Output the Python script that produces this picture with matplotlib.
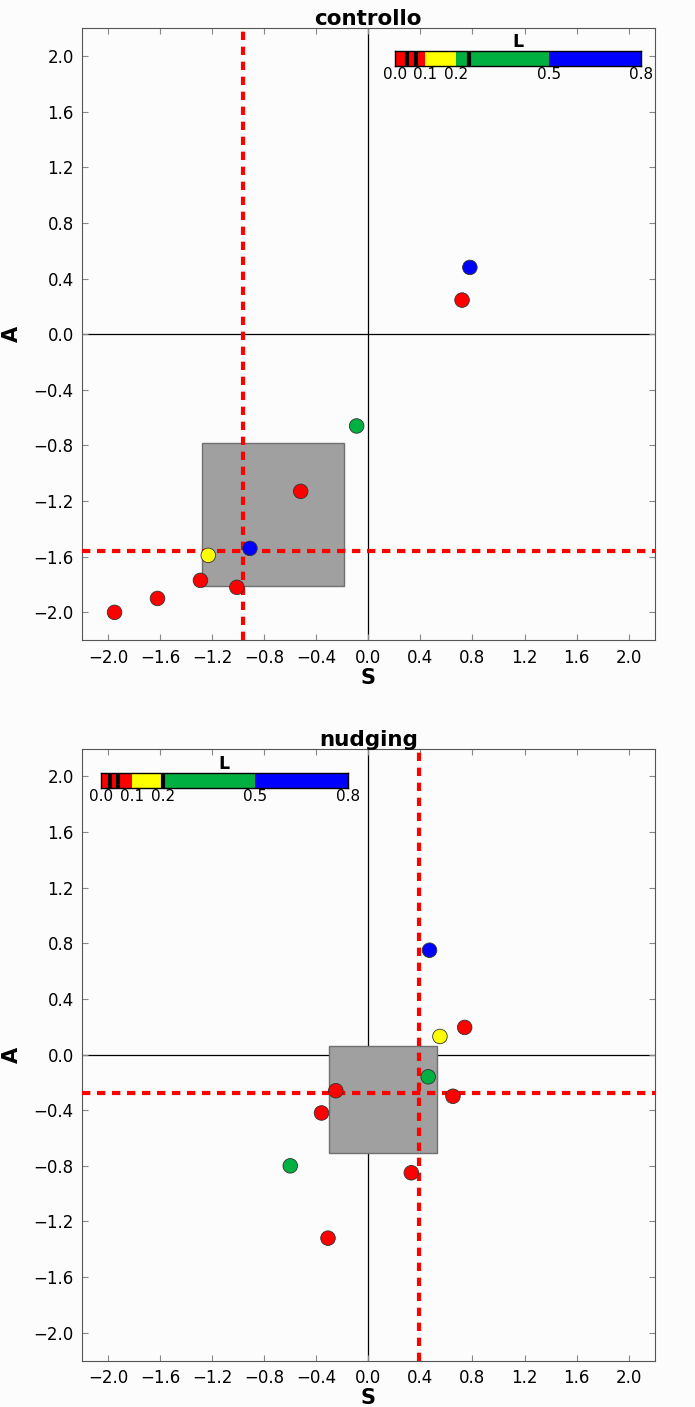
import matplotlib
matplotlib.use("Agg")
import matplotlib.pyplot as plt
import numpy as np

# ---- data ----
ctrl_S = [0.78, 0.72, -0.09, -0.52, -0.91, -1.23, -1.29, -1.01, -1.62, -1.95]
ctrl_A = [0.48, 0.245, -0.66, -1.13, -1.54, -1.59, -1.77, -1.82, -1.90, -2.00]
ctrl_C = ['#0000ff', '#ff0000', '#00b040', '#ff0000', '#0000ff', '#ffff00',
          '#ff0000', '#ff0000', '#ff0000', '#ff0000']
ctrl_box = (-1.28, -0.19, -1.81, -0.78)   # Smin, Smax, Amin, Amax
ctrl_ref = (-0.96, -1.56)                # S line, A line
ctrl_marks = [0.04, 0.069, 0.241]

nudg_S = [0.47, 0.74, 0.55, 0.46, 0.65, -0.25, -0.36, -0.60, 0.33, -0.31]
nudg_A = [0.75, 0.195, 0.13, -0.16, -0.30, -0.26, -0.42, -0.80, -0.85, -1.32]
nudg_C = ['#0000ff', '#ff0000', '#ffff00', '#00b040', '#ff0000', '#ff0000',
          '#ff0000', '#00b040', '#ff0000', '#ff0000']
nudg_box = (-0.30, 0.53, -0.705, 0.06)
nudg_ref = (0.39, -0.28)
nudg_marks = [0.029, 0.056, 0.2]

L_bounds = [0.0, 0.1, 0.2, 0.5, 0.8]
L_colors = ['#ff0000', '#ffff00', '#00b040', '#0000ff']
L_ticks = [0.0, 0.1, 0.2, 0.5, 0.8]
ticks = [-2.0, -1.6, -1.2, -0.8, -0.4, 0.0, 0.4, 0.8, 1.2, 1.6, 2.0]

def fmt(t):
    return ('%.1f' % t).replace('-', '\u2212')

bg = '#fcfcfc'
fig = plt.figure(figsize=(6.95, 14.07), dpi=100, facecolor=bg)

def panel(rect, title, S, A, C, box, ref, marks, cb_rect):
    ax = fig.add_axes(rect, facecolor=bg)
    ax.set_xlim(-2.2, 2.2)
    ax.set_ylim(-2.2, 2.2)
    ax.axhline(0, color='black', lw=0.9, zorder=1)
    ax.axvline(0, color='black', lw=0.9, zorder=1)
    ax.add_patch(plt.Rectangle((box[0], box[2]), box[1]-box[0], box[3]-box[2],
                               facecolor='#a0a0a0', edgecolor='#707070', lw=1, zorder=2))
    ax.axvline(ref[0], color='#ff0000', lw=3, ls=(0, (2, 1.6)), zorder=3)
    ax.axhline(ref[1], color='#ff0000', lw=3, ls=(0, (2, 1.6)), zorder=3)
    ax.scatter(S, A, c=C, s=110, edgecolors='#333333', linewidths=0.6, zorder=4)
    ax.set_xticks(ticks)
    ax.set_yticks(ticks)
    ax.set_xticklabels([fmt(t) for t in ticks])
    ax.set_yticklabels([fmt(t) for t in ticks])
    ax.tick_params(direction='in', top=True, right=True, labelsize=12, length=4,
                   color='#888888', pad=6)
    for sp in ax.spines.values():
        sp.set_color('#555555')
    ax.set_title(title, fontsize=15.5, fontweight='bold', pad=2)
    ax.set_xlabel('S', fontsize=15, fontweight='bold', labelpad=1)
    ax.set_ylabel('A', fontsize=15, fontweight='bold', labelpad=8)

    cax = ax.inset_axes(cb_rect)
    for i in range(len(L_colors)):
        cax.axvspan(L_bounds[i], L_bounds[i+1], color=L_colors[i], lw=0)
    for m in marks:
        cax.axvline(m, color='black', lw=3)
    cax.set_xlim(L_bounds[0], L_bounds[-1])
    cax.set_ylim(0, 1)
    cax.set_yticks([])
    cax.set_xticks(L_ticks)
    cax.set_xticklabels(['%.1f' % t for t in L_ticks])
    cax.tick_params(length=0, labelsize=11, pad=1)
    cax.set_title('L', fontsize=12.5, fontweight='bold', pad=1)
    for sp in cax.spines.values():
        sp.set_linewidth(1)
    return ax

panel([0.118, 0.545, 0.824, 0.435], 'controllo', ctrl_S, ctrl_A, ctrl_C,
      ctrl_box, ctrl_ref, ctrl_marks, [0.546, 0.938, 0.43, 0.025])
panel([0.118, 0.033, 0.824, 0.435], 'nudging', nudg_S, nudg_A, nudg_C,
      nudg_box, nudg_ref, nudg_marks, [0.033, 0.936, 0.431, 0.024])

fig.savefig('out.png', dpi=100, facecolor=bg)
